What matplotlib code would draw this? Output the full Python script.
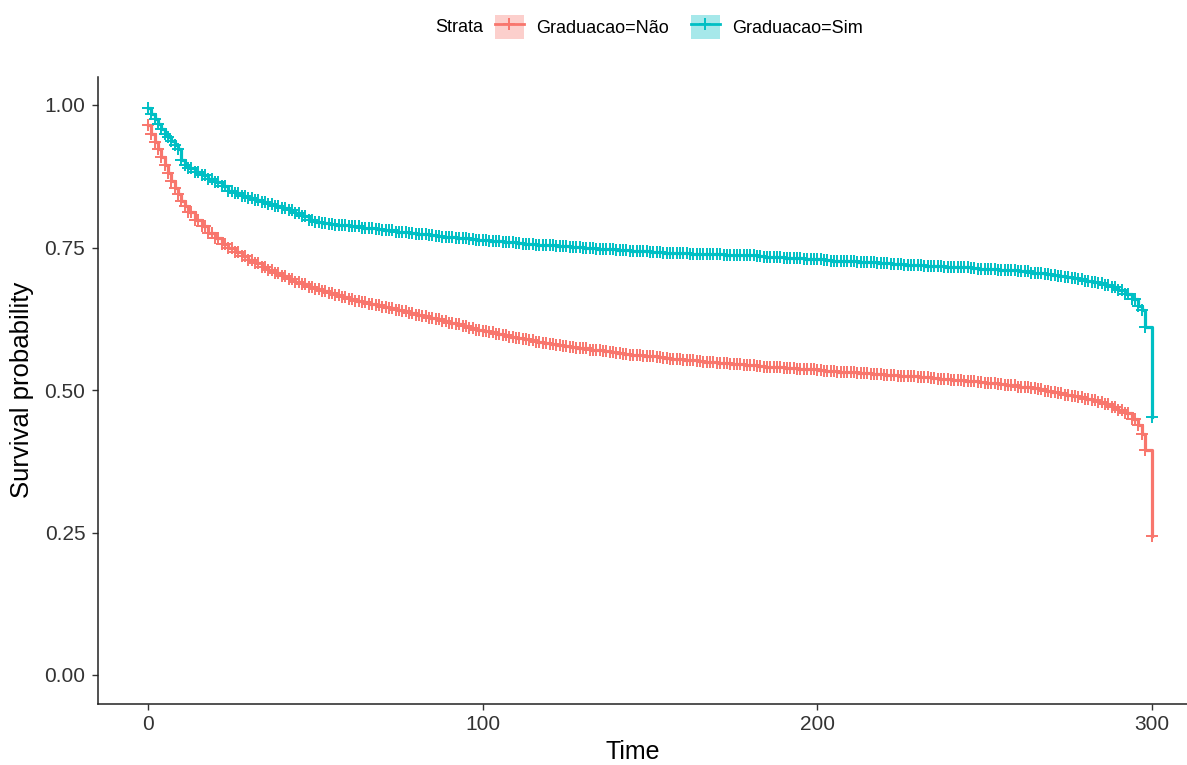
import matplotlib
matplotlib.use("Agg")
import matplotlib.pyplot as plt
import numpy as np
from matplotlib.lines import Line2D
from matplotlib.patches import Patch
from matplotlib.legend_handler import HandlerTuple

plt.rcParams['font.family'] = ['Liberation Sans', 'DejaVu Sans']

# ---- data ----
times = list(range(0, 13)) + list(range(14, 297, 2)) + [297, 298, 300]

surv_sim = [
    0.995, 0.985, 0.975, 0.967, 0.958, 0.950, 0.943, 0.936, 0.929, 0.922, 0.903, 0.895, 0.890,
    0.883, 0.877, 0.870, 0.865, 0.858, 0.850, 0.845, 0.840, 0.836,
    0.833, 0.830, 0.826, 0.823, 0.820, 0.816, 0.811, 0.806, 0.798, 0.795,
    0.793, 0.792, 0.790, 0.789, 0.788, 0.787, 0.785, 0.784, 0.782, 0.781, 0.780, 0.778, 0.777, 0.775, 0.774,
    0.773, 0.772, 0.770, 0.769, 0.768, 0.767, 0.766, 0.765, 0.764, 0.763,
    0.762, 0.761, 0.760, 0.759, 0.758, 0.757, 0.756, 0.755, 0.755, 0.754, 0.753, 0.752, 0.751, 0.751, 0.750,
    0.749, 0.748, 0.747, 0.747, 0.746, 0.745, 0.744, 0.744, 0.743, 0.742,
    0.742, 0.741, 0.741, 0.740, 0.740, 0.739, 0.739, 0.739, 0.738, 0.738, 0.737, 0.737, 0.736, 0.736, 0.736,
    0.735, 0.734, 0.733, 0.733, 0.732, 0.731, 0.731, 0.730, 0.729, 0.729,
    0.728, 0.727, 0.727, 0.726, 0.726, 0.725, 0.724, 0.724, 0.723, 0.722, 0.721, 0.721, 0.720, 0.720, 0.719,
    0.718, 0.718, 0.717, 0.716, 0.716, 0.715, 0.715, 0.714, 0.713, 0.713,
    0.712, 0.711, 0.711, 0.710, 0.709, 0.708, 0.706, 0.705, 0.704, 0.702, 0.700, 0.698, 0.696, 0.694, 0.692,
    0.690, 0.688, 0.685, 0.681, 0.676, 0.669, 0.660, 0.648,
    0.640, 0.610, 0.452]

surv_nao = [
    0.965, 0.950, 0.935, 0.922, 0.908, 0.895, 0.880, 0.867, 0.855, 0.843, 0.832, 0.822, 0.813,
    0.799, 0.787, 0.776, 0.766, 0.757, 0.749, 0.742, 0.735, 0.728,
    0.722, 0.716, 0.710, 0.705, 0.700, 0.695, 0.690, 0.686, 0.681, 0.677,
    0.673, 0.670, 0.666, 0.663, 0.660, 0.657, 0.654, 0.651, 0.649, 0.646, 0.644, 0.641, 0.638, 0.635, 0.632,
    0.629, 0.626, 0.624, 0.621, 0.618, 0.615, 0.612, 0.609, 0.606, 0.603,
    0.601, 0.598, 0.596, 0.593, 0.591, 0.589, 0.587, 0.585, 0.583, 0.581, 0.579, 0.578, 0.576, 0.574, 0.573,
    0.571, 0.570, 0.568, 0.566, 0.565, 0.564, 0.562, 0.561, 0.560, 0.559,
    0.558, 0.556, 0.555, 0.554, 0.553, 0.552, 0.551, 0.550, 0.549, 0.548, 0.547, 0.546, 0.545, 0.544, 0.543,
    0.542, 0.541, 0.540, 0.540, 0.539, 0.538, 0.537, 0.536, 0.536, 0.535,
    0.534, 0.533, 0.532, 0.532, 0.531, 0.530, 0.529, 0.528, 0.528, 0.527, 0.526, 0.525, 0.524, 0.524, 0.523,
    0.522, 0.521, 0.520, 0.519, 0.518, 0.517, 0.516, 0.515, 0.514, 0.513,
    0.512, 0.511, 0.509, 0.508, 0.506, 0.505, 0.503, 0.501, 0.499, 0.497, 0.495, 0.492, 0.490, 0.487, 0.485,
    0.482, 0.479, 0.475, 0.470, 0.465, 0.459, 0.450, 0.438,
    0.422, 0.395, 0.244]

# censoring marks observed at every time unit, plus the final time
censor_times = list(range(0, 299)) + [300]

strata = ["Graduacao=Não", "Graduacao=Sim"]
colors = ["#F8766D", "#00BFC4"]
x_ticks = [0, 100, 200, 300]
y_ticks = [0.00, 0.25, 0.50, 0.75, 1.00]
y_ticklabels = ["0.00", "0.25", "0.50", "0.75", "1.00"]

# ---- figure ----
W, H = 1187, 765
fig = plt.figure(figsize=(W / 100, H / 100), dpi=100)
ax = fig.add_axes([97.8 / W, 1 - 703.5 / H, (1202 - 97.8) / W, 627 / H])

t_arr = np.array(times, dtype=float)
for surv, col in zip([surv_nao, surv_sim], colors):
    s = np.array(surv)
    ax.plot(t_arr, s, drawstyle='steps-post', color=col, lw=2.3, zorder=3)
    ct = np.array(censor_times, dtype=float)
    idx = np.searchsorted(t_arr, ct, side='right') - 1
    ax.plot(ct, s[idx], linestyle='none', marker='+', ms=9,
            mew=1.4, color=col, zorder=4)

ax.set_xlim(-15, 315)
ax.set_ylim(-0.05, 1.05)
ax.set_xticks(x_ticks)
ax.set_yticks(y_ticks)
ax.set_yticklabels(y_ticklabels)
for side in ['top', 'right']:
    ax.spines[side].set_visible(False)
for side in ['left', 'bottom']:
    ax.spines[side].set_linewidth(1.1)
    ax.spines[side].set_color('#222222')
ax.tick_params(axis='both', length=4, width=1.0, color='#333333', labelsize=15,
               labelcolor='#333333')
ax.tick_params(axis='y', pad=5)
ax.tick_params(axis='x', pad=4)

fig.text(633 / W, 1 - 752 / H, "Time", ha='center', va='center', fontsize=18, color='black')
fig.text(22 / W, 1 - 390 / H, "Survival probability", ha='center', va='center',
         rotation=90, fontsize=18.5, color='black')

# ---- legend at top ----
handles = []
for col in colors:
    handles.append((Patch(facecolor=col, alpha=0.35, edgecolor='none'),
                    Line2D([], [], color=col, lw=2.0, marker='+', ms=9, mew=1.4)))
leg = fig.legend(handles, strata, loc='center left', bbox_to_anchor=(495 / W, 1 - 27 / H),
                 ncol=2, frameon=False, fontsize=13, handlelength=1.6, handleheight=1.6,
                 handletextpad=0.7, columnspacing=1.2, borderpad=0, borderaxespad=0,
                 handler_map={tuple: HandlerTuple(ndivide=1, pad=0)})
fig.text(435 / W, 1 - 27 / H, "Strata", ha='left', va='center', fontsize=13, color='black')

fig.savefig("out.png", dpi=100)
